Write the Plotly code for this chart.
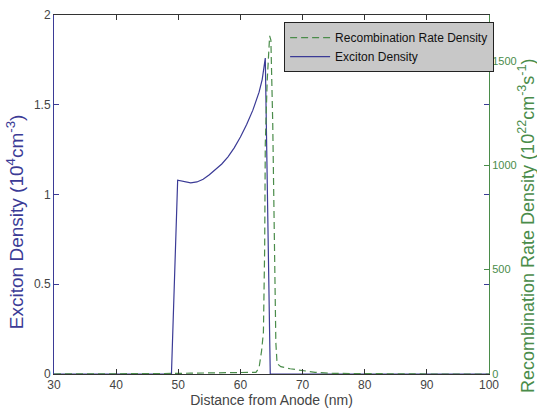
import plotly.graph_objects as go

# Exciton density (10^4 cm^-3) vs distance from anode (nm)
exc_x = [30, 40, 48.9, 49.9, 51, 52, 53, 54, 55, 56, 57, 58, 59, 60, 61, 62, 63, 63.5, 64.0, 64.8, 70, 80, 90, 100]
exc_y = [0, 0, 0, 1.08, 1.07, 1.065, 1.07, 1.085, 1.11, 1.14, 1.17, 1.21, 1.26, 1.32, 1.39, 1.47, 1.57, 1.64, 1.76, 0, 0, 0, 0, 0]

# Recombination rate density (10^22 cm^-3 s^-1)
rec_x = [30, 40, 47, 52, 56, 60, 62, 62.5, 63.0, 63.4, 63.7, 63.9, 64.0, 64.3, 64.7, 64.9, 65.2, 65.5, 65.7, 65.9, 66.5, 68, 70, 72, 75, 80, 90, 100]
rec_y = [0, 0, 2, 4, 5, 6, 6, 8, 30, 110, 200, 600, 1100, 1400, 1620, 1600, 1200, 600, 150, 50, 35, 25, 15, 8, 3, 1, 0, 0]

x_ticks = [30, 40, 50, 60, 70, 80, 90, 100]
left_ticks = [0, 0.5, 1, 1.5, 2]
right_ticks = [0, 500, 1000, 1500]

BLUE = "#3b3b96"
GREEN = "#4a8c4a"
FONT = "Liberation Sans, Arial, sans-serif"

fig = go.Figure()
fig.add_trace(go.Scatter(
    x=exc_x, y=exc_y, mode="lines", name="Exciton Density",
    line=dict(color=BLUE, width=1.2), legendrank=2, yaxis="y"))
fig.add_trace(go.Scatter(
    x=rec_x, y=rec_y, mode="lines", name="Recombination Rate Density",
    line=dict(color=GREEN, width=1.2, dash="7px,4px"), legendrank=1, yaxis="y2"))

fig.update_layout(
    width=537, height=412,
    margin=dict(l=54, r=48, t=15, b=38, autoexpand=False),
    paper_bgcolor="white", plot_bgcolor="white",
    font=dict(family=FONT, size=12, color="#444"),
    xaxis=dict(
        range=[30, 100], tickvals=x_ticks, ticks="inside", ticklen=5,
        tickcolor="#333", linecolor="#333", linewidth=1, mirror="ticks",
        showgrid=False, zeroline=False, automargin=False,
        tickfont=dict(size=12, color="#444"),
        title=dict(text="Distance from Anode (nm)", standoff=1,
                   font=dict(size=14, color="#444")),
    ),
    yaxis=dict(
        range=[0, 2], tickvals=left_ticks, ticktext=["0", "0.5", "1", "1.5", "2"],
        ticks="inside", ticklen=5, automargin=False,
        tickcolor=BLUE, linecolor=BLUE, linewidth=1, mirror="ticks",
        showgrid=False, zeroline=False,
        tickfont=dict(size=12, color="#444"),
    ),
    yaxis2=dict(
        overlaying="y", side="right", range=[0, 1720], tickvals=right_ticks,
        ticks="inside", ticklen=5, tickcolor=GREEN, linecolor=GREEN, linewidth=1,
        showline=True, showgrid=False, zeroline=False, automargin=False,
        tickfont=dict(size=11, color=GREEN),
    ),
    legend=dict(
        x=0.529, y=0.98, xanchor="left", yanchor="top",
        bgcolor="#c8c8c8", bordercolor="#222", borderwidth=1,
        font=dict(size=12, color="#111"), tracegroupgap=0,
        itemwidth=40,
    ),
    showlegend=True,
    annotations=[
        dict(text="Exciton Density (10<sup>4</sup>cm<sup>-3</sup>)",
             xref="paper", yref="paper", x=-0.088, y=0.425, xanchor="center", yanchor="middle",
             textangle=-90, showarrow=False, font=dict(size=19, color=BLUE)),
        dict(text="Recombination Rate Density (10<sup>22</sup>cm<sup>-3</sup>s<sup>-1</sup>)",
             xref="paper", yref="paper", x=1.085, y=0.415, xanchor="center", yanchor="middle",
             textangle=-90, showarrow=False, font=dict(size=18, color=GREEN)),
    ],
)

fig.write_html("out.html", config={"displayModeBar": False},
               post_script="document.body.style.margin='0';")
